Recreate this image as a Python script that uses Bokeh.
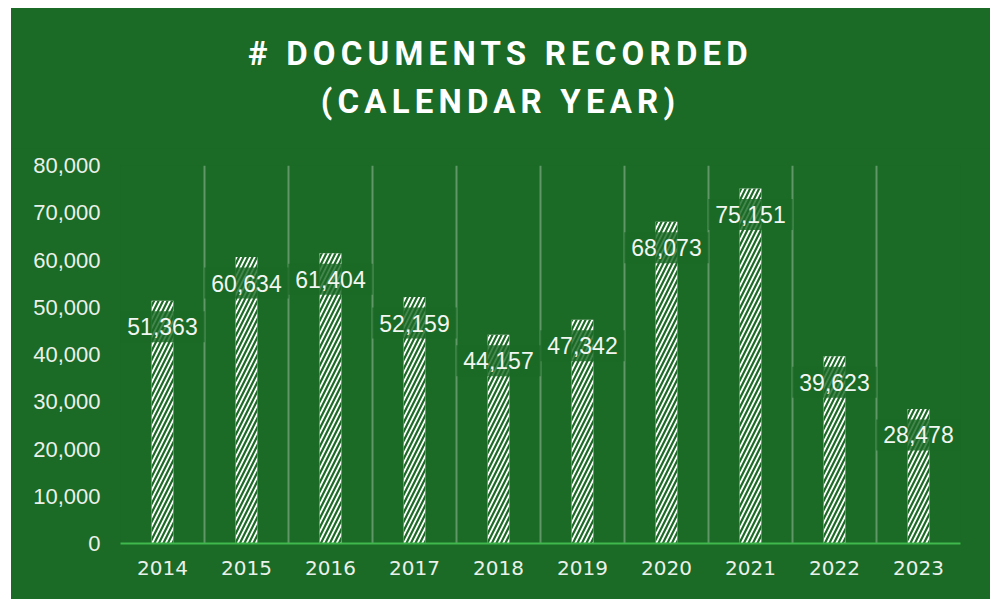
from bokeh.plotting import figure
from bokeh.layouts import column
from bokeh.models import (Range1d, FixedTicker, NumeralTickFormatter, Div,
                          ColumnDataSource, GlobalInlineStyleSheet)
from bokeh.core.properties import value
from bokeh.embed import file_html
from bokeh.resources import INLINE

years = ["2014", "2015", "2016", "2017", "2018", "2019", "2020", "2021", "2022", "2023"]
documents = [51363, 60634, 61404, 52159, 44157, 47342, 68073, 75151, 39623, 28478]
y_ticks = [0, 10000, 20000, 30000, 40000, 50000, 60000, 70000, 80000]

GREEN = "#1b6a26"
AXIS_GREEN = "#3fb84c"

idx = list(range(len(years)))
labels = [f"{v:,}" for v in documents]
src = ColumnDataSource(dict(x=idx, top=documents, label=labels))

title = Div(
    text=('<div style="width:979px;text-align:center;padding-top:22px;'
          'font-family:Roboto;font-weight:700;font-size:33px;letter-spacing:5.2px;'
          'line-height:48px;color:#ffffff;">'
          '# DOCUMENTS RECORDED<br>(CALENDAR YEAR)</div>'),
    width=979, height=140, margin=0,
    styles={"background-color": GREEN},
)

p = figure(width=979, height=451, output_backend="svg", toolbar_location=None,
           x_range=Range1d(-0.5, len(years) - 0.5), y_range=Range1d(0, 80000),
           min_border_left=109, min_border_right=30, min_border_top=17,
           min_border_bottom=56)
p.background_fill_color = GREEN
p.border_fill_color = GREEN
p.outline_line_color = None

p.vbar(x="x", top="top", width=0.26, source=src, fill_color="white",
       line_color=None, hatch_pattern="/", hatch_color=GREEN,
       hatch_weight=2.2, hatch_scale=9)

p.text(x="x", y="top", text="label", source=src, y_offset=26,
       text_align="center", text_baseline="middle",
       text_font=value("Liberation Sans"), text_font_size="23px",
       text_color="#f2f6f2", padding=7,
       background_fill_color=GREEN, background_fill_alpha=0.82)

# grids
p.ygrid.grid_line_color = None
p.xgrid.ticker = FixedTicker(ticks=[i - 0.5 for i in range(len(years) + 1)])
p.xgrid.grid_line_color = "white"
p.xgrid.grid_line_alpha = 0.3
p.xgrid.grid_line_width = 2

# y axis
p.yaxis.ticker = FixedTicker(ticks=y_ticks)
p.yaxis.formatter = NumeralTickFormatter(format="0,0")
p.yaxis.axis_line_color = None
p.yaxis.major_tick_line_color = None
p.yaxis.minor_tick_line_color = None
p.yaxis.major_tick_out = 0
p.yaxis.major_label_standoff = 20
p.yaxis.major_label_text_font = "Liberation Sans"
p.yaxis.major_label_text_font_size = "22px"
p.yaxis.major_label_text_color = "#eaf1ea"

# x axis
p.xaxis.ticker = FixedTicker(ticks=idx)
p.xaxis.major_label_overrides = {i: y for i, y in zip(idx, years)}
p.xaxis.axis_line_color = AXIS_GREEN
p.xaxis.axis_line_width = 2
p.xaxis.major_tick_line_color = None
p.xaxis.minor_tick_line_color = None
p.xaxis.major_tick_out = 0
p.xaxis.major_label_standoff = 17
p.xaxis.major_label_text_font = "DejaVu Sans"
p.xaxis.major_label_text_font_size = "20px"
p.xaxis.major_label_text_color = "#eaf1ea"

layout = column(title, p, margin=(8, 0, 0, 11), spacing=0,
                styles={"background-color": GREEN},
                stylesheets=[GlobalInlineStyleSheet(css="html, body { overflow: hidden; }")])

open("out.html", "w").write(file_html(layout, INLINE))
